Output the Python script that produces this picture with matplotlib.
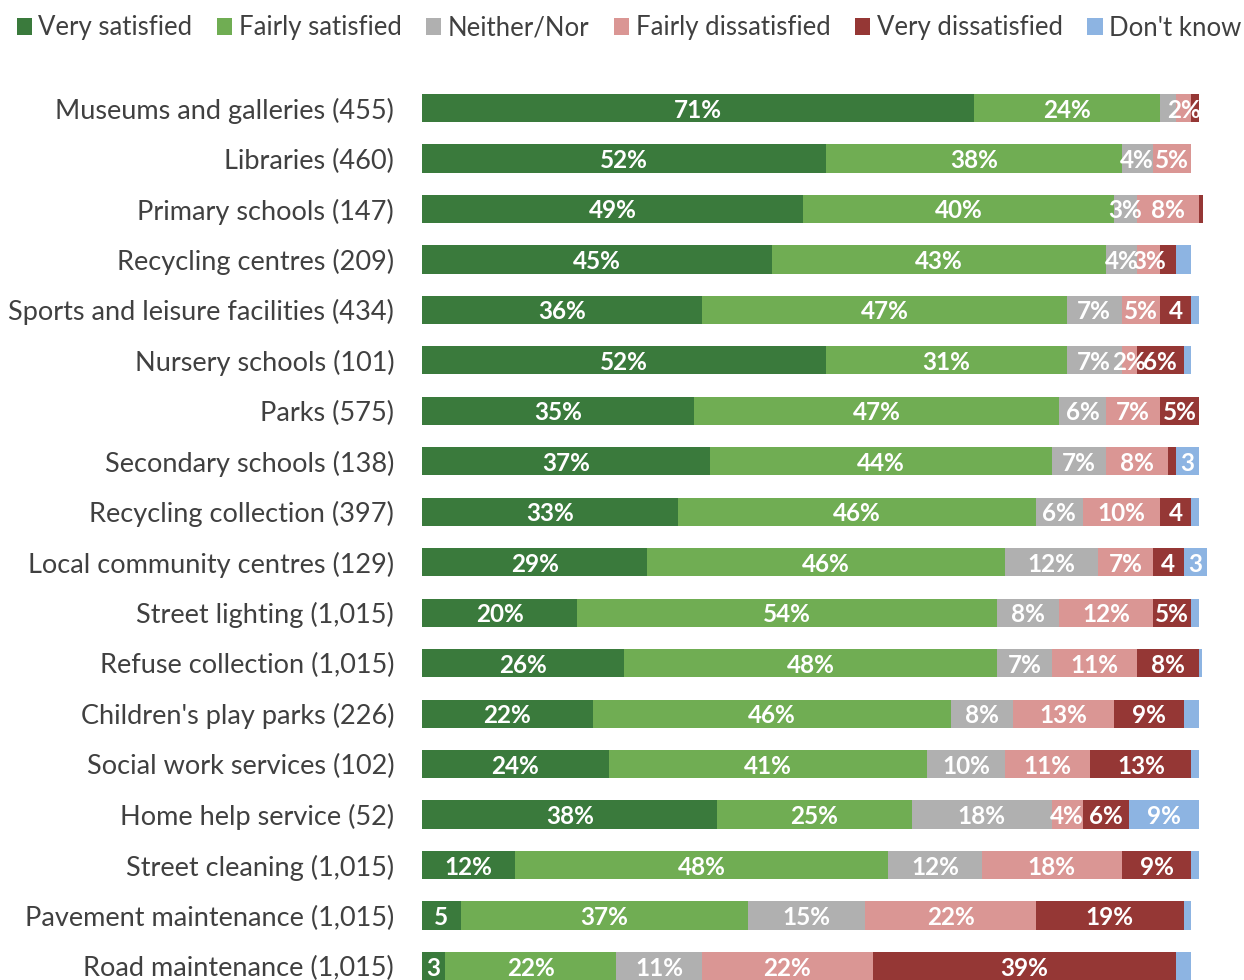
import numpy as np
import matplotlib
matplotlib.use("Agg")
from matplotlib import pyplot as plt
from matplotlib.patches import Patch

plt.rcParams['font.family'] = ['Lato', 'DejaVu Sans']

# Data =====================================================================
categories = [
    "Museums and galleries (455)",
    "Libraries (460)",
    "Primary schools (147)",
    "Recycling centres (209)",
    "Sports and leisure facilities (434)",
    "Nursery schools (101)",
    "Parks (575)",
    "Secondary schools (138)",
    "Recycling collection (397)",
    "Local community centres (129)",
    "Street lighting (1,015)",
    "Refuse collection (1,015)",
    "Children's play parks (226)",
    "Social work services (102)",
    "Home help service (52)",
    "Street cleaning (1,015)",
    "Pavement maintenance (1,015)",
    "Road maintenance (1,015)",
]
series = ["Very satisfied", "Fairly satisfied", "Neither/Nor",
          "Fairly dissatisfied", "Very dissatisfied", "Don't know"]

very_sat   = [71, 52, 49, 45, 36, 52, 35, 37, 33, 29, 20, 26, 22, 24, 38, 12, 5, 3]
fairly_sat = [24, 38, 40, 43, 47, 31, 47, 44, 46, 46, 54, 48, 46, 41, 25, 48, 37, 22]
neither    = [2, 4, 3, 4, 7, 7, 6, 7, 6, 12, 8, 7, 8, 10, 18, 12, 15, 11]
fairly_dis = [2, 5, 8, 3, 5, 2, 7, 8, 10, 7, 12, 11, 13, 11, 4, 18, 22, 22]
very_dis   = [1, 0, 0.5, 2, 4, 6, 5, 1, 4, 4, 5, 8, 9, 13, 6, 9, 19, 39]
dont_know  = [0, 0, 0, 2, 1, 1, 0, 3, 1, 3, 1, 0.4, 2, 1, 9, 1, 1, 2]

# displayed data labels (blank = no label)
lab_vs = ["71%", "52%", "49%", "45%", "36%", "52%", "35%", "37%", "33%", "29%",
          "20%", "26%", "22%", "24%", "38%", "12%", "5", "3"]
lab_fs = ["24%", "38%", "40%", "43%", "47%", "31%", "47%", "44%", "46%", "46%",
          "54%", "48%", "46%", "41%", "25%", "48%", "37%", "22%"]
lab_nn = ["", "4%", "3%", "4%", "7%", "7%", "6%", "7%", "6%", "12%",
          "8%", "7%", "8%", "10%", "18%", "12%", "15%", "11%"]
lab_fd = ["2%", "5%", "8%", "3%", "5%", "2%", "7%", "8%", "10%", "7%",
          "12%", "11%", "13%", "11%", "4%", "18%", "22%", "22%"]
lab_vd = ["", "", "", "", "4", "6%", "5%", "", "4", "4",
          "5%", "8%", "9%", "13%", "6%", "9%", "19%", "39%"]
lab_dk = ["", "", "", "", "", "", "", "3", "", "3",
          "", "", "", "", "9%", "", "", ""]

colors = ["#3a7a3c", "#70ad53", "#b0b0b0", "#da9694", "#953735", "#8db4e2"]

values = [very_sat, fairly_sat, neither, fairly_dis, very_dis, dont_know]
labels = [lab_vs, lab_fs, lab_nn, lab_fd, lab_vd, lab_dk]

# Plot =====================================================================
fig = plt.figure(figsize=(12.44, 9.8), dpi=100)
ax = fig.add_axes([422 / 1244, 0.0, (1207 - 422) / 1244, 910 / 980])

ypos = np.arange(len(categories))
left = np.zeros(len(categories))
for vals, labs, col in zip(values, labels, colors):
    vals = np.array(vals, dtype=float)
    ax.barh(ypos, vals, left=left, height=0.56, color=col, linewidth=0)
    for y, v, l, t in zip(ypos, vals, left, labs):
        if t:
            ax.text(l + v / 2, y, t, ha='center', va='center_baseline',
                    color='white', fontsize=17.5, fontweight='bold')
    left += vals

ax.set_xlim(0, 101)
ax.set_ylim(17.277, -0.753)
ax.set_yticks(ypos)
ax.set_yticklabels(categories, fontsize=19.5, color='#404040')
ax.tick_params(axis='y', length=0, pad=20)
ax.set_xticks([])
for s in ax.spines.values():
    s.set_visible(False)

handles = [Patch(facecolor=c, edgecolor='none') for c in colors]
fig.legend(handles, series, loc='center', bbox_to_anchor=(0.5056, 1 - 28 / 980),
           ncol=6, frameon=False, fontsize=18.5, handlelength=0.6,
           handleheight=0.6, handletextpad=0.25, columnspacing=0.95,
           labelcolor='#404040')

fig.savefig("out.png", dpi=100)
